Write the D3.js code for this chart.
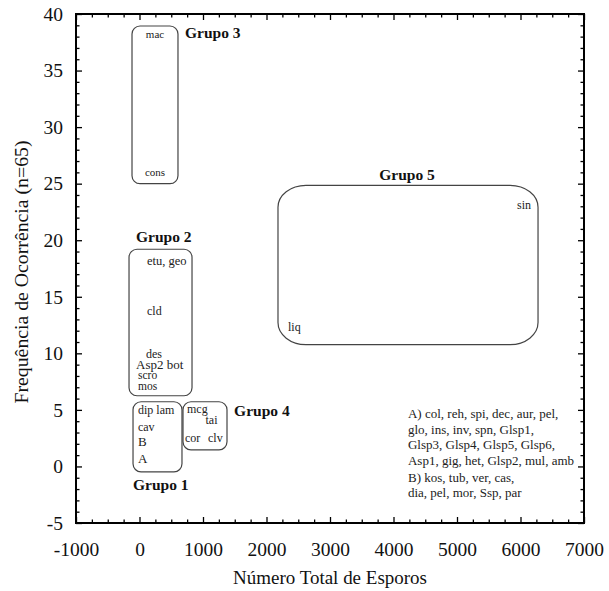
<!DOCTYPE html>
<html>
<head>
<meta charset="utf-8">
<script src="https://cdn.jsdelivr.net/npm/d3@7"></script>
<style>
  body { margin: 0; background: #fff; }
</style>
</head>
<body>
<script>
const FONT = "Liberation Serif";

// Axis ticks
const xMajor = [-1000, 0, 1000, 2000, 3000, 4000, 5000, 6000, 7000];
const yMajor = [-5, 0, 5, 10, 15, 20, 25, 30, 35, 40];

// Group boxes (data units)
const groupNames = ["Grupo 3", "Grupo 2", "Grupo 1", "Grupo 4", "Grupo 5"];
const groupX0 = [-118, -165, -102, 685, 2181];
const groupX1 = [606, 827, 669, 1378, 6276];
const groupYTop = [38.94, 19.2, 5.72, 5.72, 24.85];
const groupYBottom = [25.0, 6.25, -0.48, 1.47, 10.77];

// Group titles
const titleX = [717, -55, -102, 1490, 4213];
const titleY = [37.9, 19.8, -2.07, 4.48, 25.3];
const titleAnchor = ["start", "start", "start", "start", "middle"];

// Species labels inside the boxes
const spText = ["mac", "cons", "etu, geo", "cld", "des", "Asp2 bot", "scro", "mos",
                "dip lam", "cav", "B", "A", "mcg", "tai", "cor", "clv", "sin", "liq"];
const spX = [244, 244, 118, 118, 102, -55, -24, -24,
             -24, -24, -24, -24, 748, 1040, 716, 1079, 5945, 2339];
const spY = [37.87, 25.65, 17.77, 13.43, 9.62, 8.64, 7.76, 6.78,
             4.66, 3.15, 1.82, 0.32, 4.75, 3.77, 2.18, 2.18, 22.73, 12.0];
const spSize = [11, 11, 12.5, 12, 12, 13, 11.5, 11.5, 12, 12, 13, 13, 12, 12, 12, 12, 12, 12];
const spAnchor = ["middle", "middle", "start", "start", "start", "start", "start", "start",
                  "start", "start", "start", "start", "start", "start", "start", "start", "start", "start"];

// Legend text block (bottom-right)
const noteLines = [
  "A) col, reh, spi, dec, aur, pel,",
  "glo, ins, inv, spn, Glsp1,",
  "Glsp3, Glsp4, Glsp5, Glsp6,",
  "Asp1, gig, het, Glsp2, mul, amb",
  "B) kos, tub, ver, cas,",
  "dia, pel, mor, Ssp, par"
];
const noteX = 4228;
const noteY = [4.30, 2.88, 1.56, 0.15, -1.36, -2.69];

const width = 609, height = 591;
const margin = { top: 14, right: 25, bottom: 68, left: 76 };
const iw = width - margin.left - margin.right;
const ih = height - margin.top - margin.bottom;

const x = d3.scaleLinear().domain([-1000, 7000]).range([0, iw]);
const y = d3.scaleLinear().domain([-5, 40]).range([ih, 0]);

const svg = d3.select("body").append("svg")
  .attr("width", width)
  .attr("height", height)
  .style("display", "block")
  .attr("font-family", FONT);

const g = svg.append("g").attr("transform", `translate(${margin.left},${margin.top})`);

// minor ticks
const xMinor = d3.range(-1000, 7001, 250).filter(v => !xMajor.includes(v));
const yMinor = d3.range(-5, 41, 1).filter(v => !yMajor.includes(v));
const fmt = d => String(d);  // plain hyphen for negatives

function styleAxis(sel) {
  sel.attr("font-family", FONT);
  sel.select(".domain").remove();
  sel.selectAll("line").attr("stroke", "#000").attr("stroke-width", 1.3);
  sel.selectAll("text").attr("fill", "#111")
    .style("font-size", "19.5px")
    .style("font-family", FONT);
}

// bottom
g.append("g").attr("transform", `translate(0,${ih})`)
  .call(d3.axisBottom(x).tickValues(xMajor).tickSize(-6).tickPadding(19).tickFormat(fmt))
  .call(styleAxis);
g.append("g").attr("transform", `translate(0,${ih})`)
  .call(d3.axisBottom(x).tickValues(xMinor).tickSize(-3.5).tickFormat(""))
  .call(styleAxis);
// top
g.append("g")
  .call(d3.axisTop(x).tickValues(xMajor).tickSize(-6).tickFormat(""))
  .call(styleAxis);
g.append("g")
  .call(d3.axisTop(x).tickValues(xMinor).tickSize(-3.5).tickFormat(""))
  .call(styleAxis);
// left
g.append("g")
  .call(d3.axisLeft(y).tickValues(yMajor).tickSize(-6).tickPadding(13).tickFormat(fmt))
  .call(styleAxis);
g.append("g")
  .call(d3.axisLeft(y).tickValues(yMinor).tickSize(-3.5).tickFormat(""))
  .call(styleAxis);
// right
g.append("g").attr("transform", `translate(${iw},0)`)
  .call(d3.axisRight(y).tickValues(yMajor).tickSize(-6).tickFormat(""))
  .call(styleAxis);
g.append("g").attr("transform", `translate(${iw},0)`)
  .call(d3.axisRight(y).tickValues(yMinor).tickSize(-3.5).tickFormat(""))
  .call(styleAxis);

// frame
g.append("rect")
  .attr("width", iw).attr("height", ih)
  .attr("fill", "none").attr("stroke", "#000").attr("stroke-width", 2);

// group boxes
const boxes = groupNames.map((name, i) => ({
  name, x0: groupX0[i], x1: groupX1[i], yt: groupYTop[i], yb: groupYBottom[i]
}));

g.append("g").selectAll("rect")
  .data(boxes)
  .join("rect")
  .attr("x", d => x(d.x0))
  .attr("y", d => y(d.yt))
  .attr("width", d => x(d.x1) - x(d.x0))
  .attr("height", d => y(d.yb) - y(d.yt))
  .attr("rx", d => d.name === "Grupo 5" ? 28 : 8)
  .attr("ry", d => d.name === "Grupo 5" ? 22 : 8)
  .attr("fill", "none")
  .attr("stroke", "#444")
  .attr("stroke-width", 1.2);

// group titles
g.append("g").selectAll("text")
  .data(groupNames)
  .join("text")
  .attr("x", (d, i) => x(titleX[i]))
  .attr("y", (d, i) => y(titleY[i]))
  .attr("text-anchor", (d, i) => titleAnchor[i])
  .style("font-family", FONT)
  .style("font-size", "15.5px")
  .style("font-weight", "bold")
  .attr("fill", "#111")
  .text(d => d);

// species labels
g.append("g").selectAll("text")
  .data(spText)
  .join("text")
  .attr("x", (d, i) => x(spX[i]))
  .attr("y", (d, i) => y(spY[i]))
  .attr("text-anchor", (d, i) => spAnchor[i])
  .style("font-family", FONT)
  .style("font-size", (d, i) => spSize[i] + "px")
  .attr("fill", "#222")
  .text(d => d);

// note block
g.append("g").selectAll("text")
  .data(noteLines)
  .join("text")
  .attr("x", x(noteX))
  .attr("y", (d, i) => y(noteY[i]))
  .style("font-family", FONT)
  .style("font-size", "13px")
  .attr("fill", "#222")
  .text(d => d);

// axis titles
svg.append("text")
  .attr("x", margin.left + iw / 2)
  .attr("y", 584)
  .attr("text-anchor", "middle")
  .attr("textLength", 194)
  .attr("lengthAdjust", "spacingAndGlyphs")
  .style("font-family", FONT)
  .style("font-size", "18px")
  .attr("fill", "#111")
  .text("Número Total de Esporos");

svg.append("text")
  .attr("transform", `translate(28,272) rotate(-90)`)
  .attr("text-anchor", "middle")
  .attr("textLength", 263)
  .attr("lengthAdjust", "spacingAndGlyphs")
  .style("font-family", FONT)
  .style("font-size", "18px")
  .attr("fill", "#111")
  .text("Frequência de Ocorrência (n=65)");
</script>
</body>
</html>
